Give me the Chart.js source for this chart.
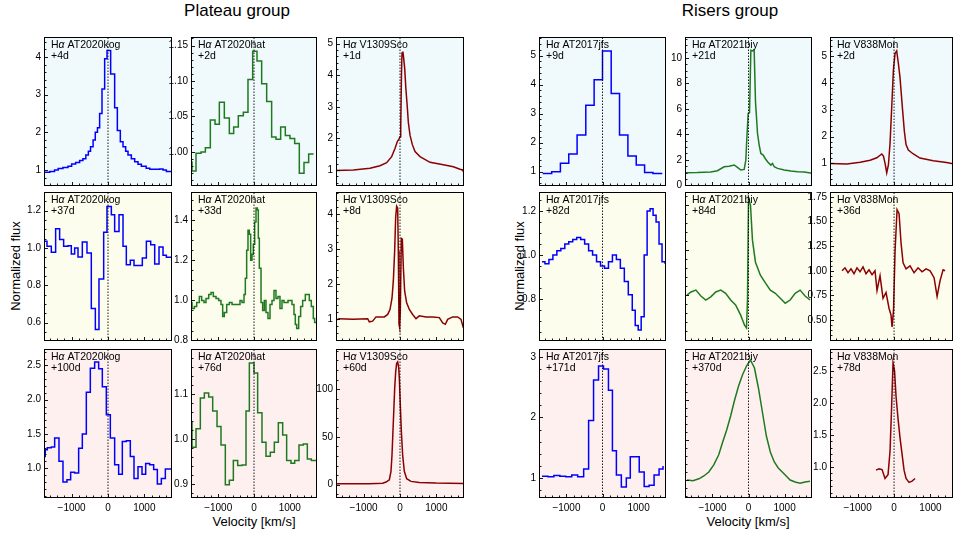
<!DOCTYPE html>
<html><head><meta charset="utf-8">
<script src="https://cdn.jsdelivr.net/npm/chart.js@4.4.1/dist/chart.umd.min.js"></script>
<style>
html,body{margin:0;padding:0;background:#fff;width:954px;height:535px;overflow:hidden;position:relative;font-family:"Liberation Sans",Arial,sans-serif;}
canvas{position:absolute;}
.t{position:absolute;color:#000;white-space:nowrap;line-height:1;}
</style></head><body>
<div class="t" style="left:237px;top:10px;transform:translate(-50%,-50%);font-size:17px;">Plateau group</div>
<div class="t" style="left:730px;top:10px;transform:translate(-50%,-50%);font-size:17px;">Risers group</div>
<div class="t" style="left:15px;top:266px;transform:translate(-50%,-50%) rotate(-90deg);font-size:13px;">Normalized flux</div>
<div class="t" style="left:519px;top:266px;transform:translate(-50%,-50%) rotate(-90deg);font-size:13px;">Normalized flux</div>
<div class="t" style="left:254px;top:521px;transform:translate(-50%,-50%);font-size:13px;">Velocity [km/s]</div>
<div class="t" style="left:748px;top:521px;transform:translate(-50%,-50%);font-size:13px;">Velocity [km/s]</div>
<script>
// ---------------- tick labels ----------------
const XTICKS = [-1000, 0, 1000];
const kog4Ticks = [1, 2, 3, 4];
const hat2Ticks = [1.00, 1.05, 1.10, 1.15];
const sco1Ticks = [1, 2, 3, 4, 5];
const kog37Ticks = [0.6, 0.8, 1.0, 1.2];
const hat33Ticks = [0.8, 1.0, 1.2, 1.4];
const sco8Ticks = [1, 2, 3, 4];
const kog100Ticks = [1.0, 1.5, 2.0, 2.5];
const hat76Ticks = [0.9, 1.0, 1.1];
const sco60Ticks = [0, 50, 100];
const jfs9Ticks = [1, 2, 3, 4, 5];
const biy21Ticks = [0, 2, 4, 6, 8, 10];
const mon2Ticks = [1, 2, 3, 4, 5];
const jfs82Ticks = [0.8, 1.0, 1.2];
const biy84Ticks = [0, 1, 2, 3];
const mon36Ticks = [0.50, 0.75, 1.00, 1.25, 1.50, 1.75];
const jfs171Ticks = [1, 2, 3];
const biy370Ticks = [1, 2, 3, 4];
const mon78Ticks = [1.0, 1.5, 2.0, 2.5];

// ---------------- data: velocity [km/s], normalized flux ----------------
const kog4Vel = [-1760,-1600,-1470,-1370,-1240,-1100,-1000,-890,-780,-690,-610,-540,-480,-410,-350,-290,-230,-165,-92,-27,73,183,257,339,413,486,550,642,734,825,917,1050,1150,1420,1513,1605,1760];
const kog4Flux = [0.94,0.96,1.00,1.04,1.07,1.10,1.16,1.20,1.25,1.30,1.40,1.50,1.62,1.80,2.00,2.12,2.50,3.15,3.95,4.17,3.55,2.65,2.05,1.75,1.62,1.50,1.40,1.30,1.22,1.15,1.10,1.05,1.02,1.03,1.00,0.96,0.95];

const hat2Vel = [-1760,-1732,-1620,-1480,-1359,-1220,-1089,-968,-829,-689,-568,-438,-298,-168,-37,84,214,354,493,614,745,875,1005,1136,1266,1397,1527,1666];
const hat2Flux = [0.986,0.973,0.998,1.000,1.006,1.045,1.039,1.070,1.048,1.026,1.035,1.051,1.056,1.102,1.142,1.128,1.096,1.071,1.021,1.018,1.035,1.023,1.019,1.012,0.970,0.985,0.997,0.997];

const sco1Vel = [-1760,-1284,-825,-550,-367,-229,-138,-73,-18,0,20,40,55,80,100,130,160,200,230,275,340,413,550,825,1192,1467,1650,1720,1760];
const sco1Flux = [0.98,1.00,1.05,1.13,1.23,1.42,1.68,1.90,2.00,2.05,2.30,4.00,4.70,4.75,4.55,4.20,3.60,3.00,2.50,2.10,1.80,1.58,1.42,1.24,1.16,1.10,1.02,1.00,0.90];

const kog37Vel = [-1760,-1678,-1559,-1440,-1330,-1220,-1100,-1009,-917,-825,-706,-578,-459,-348,-248,-119,-28,92,183,303,413,504,614,715,944,1055,1174,1284,1403,1513,1605,1760];
const kog37Flux = [1.036,1.009,0.977,1.103,1.045,1.009,1.012,0.968,1.000,0.952,1.032,0.973,0.676,0.564,0.834,1.085,1.223,1.178,1.089,1.178,1.009,0.911,0.934,0.907,0.947,1.036,1.018,0.915,1.005,0.961,0.950,0.950];

const hat33Vel = [-1760,-1732,-1666,-1601,-1527,-1462,-1397,-1341,-1266,-1201,-1136,-1061,-987,-922,-875,-829,-763,-689,-614,-540,-456,-391,-335,-279,-242,-205,-168,-130,-93,-56,-19,19,56,93,121,149,196,242,289,335,391,447,503,559,614,670,726,782,838,894,950,1005,1061,1117,1154,1192,1248,1303,1359,1434,1490,1545,1601,1657,1694,1760];
const hat33Flux = [0.99,0.96,0.97,0.99,1.02,1.00,0.99,1.01,1.03,1.04,1.02,1.01,1.00,0.98,0.92,0.94,0.98,0.99,0.98,0.98,0.98,1.00,0.99,1.03,1.11,1.25,1.35,1.33,1.20,1.23,1.28,1.39,1.46,1.45,1.31,1.16,0.99,0.95,1.00,0.94,0.91,0.98,1.00,1.05,1.01,1.02,0.96,1.00,0.99,0.99,1.00,1.00,0.98,0.93,0.88,0.86,0.92,0.97,1.00,1.03,1.03,1.00,0.97,0.91,0.89,0.89];

const sco8Vel = [-1760,-1669,-1302,-889,-844,-752,-660,-431,-339,-275,-220,-183,-147,-119,-92,-64,-46,-28,-9,9,37,64,92,128,183,257,348,440,532,715,899,1082,1174,1247,1311,1449,1586,1678,1742];
const sco8Flux = [0.98,1.02,1.00,1.02,0.93,0.95,1.07,1.07,1.14,1.28,1.60,2.10,2.94,3.90,4.22,4.17,2.94,0.86,0.76,1.24,3.30,3.28,2.47,1.80,1.47,1.28,1.14,1.02,1.10,1.07,1.07,1.05,0.90,0.86,1.00,1.07,1.07,1.00,0.76];

const kog100Vel = [-1760,-1725,-1669,-1559,-1467,-1348,-1238,-1128,-1027,-917,-807,-706,-596,-486,-367,-257,-156,-46,64,183,293,394,504,614,715,825,935,1036,1146,1256,1357,1467,1577,1760];
const kog100Flux = [1.17,1.27,1.30,1.31,1.44,1.10,0.80,0.83,0.94,0.93,1.29,1.50,2.11,2.46,2.55,2.45,2.19,1.78,1.44,1.05,0.91,1.39,1.40,1.17,0.85,1.02,0.91,1.07,1.05,0.98,0.77,0.85,0.99,0.99];

const hat76Vel = [-1760,-1732,-1620,-1499,-1387,-1266,-1154,-1033,-922,-801,-689,-577,-456,-335,-223,-130,0,102,223,335,456,568,680,801,912,1033,1136,1257,1378,1490,1601,1732];
const hat76Flux = [1.036,0.982,1.023,1.091,1.102,1.093,1.062,1.028,0.987,0.899,0.909,0.953,0.942,0.943,1.062,1.168,1.146,1.058,0.993,0.962,0.971,0.993,1.036,1.009,0.953,0.947,0.953,0.987,0.989,0.956,0.953,0.953];

const sco60Vel = [-1760,-844,-477,-385,-293,-248,-220,-183,-147,-119,-92,-64,-37,-18,9,37,73,119,183,303,532,990,1742];
const sco60Flux = [1.0,1.0,1.5,2.8,5.2,13.9,31,66,100,118,127,128.5,123,111,83,56,31,14,6.3,3.5,2.4,1.7,1.4];

const jfs9Vel = [-1658,-1408,-1167,-935,-704,-463,-232,0,241,472,704,935,1167,1398,1658];
const jfs9Flux = [0.94,1.00,1.29,1.61,2.26,3.29,4.17,5.16,3.69,2.26,1.54,1.23,0.97,0.94,0.94];

const biy21Vel = [-1760,-1417,-1046,-861,-676,-537,-398,-306,-213,-120,-74,-46,-9,28,65,111,157,194,250,296,343,407,463,528,620,667,713,806,991,1176,1361,1546,1760];
const biy21Flux = [0.99,1.00,1.05,1.15,1.46,1.50,1.60,1.41,1.20,1.25,1.98,3.68,5.64,5.70,10.60,10.55,10.60,6.55,4.07,3.16,2.50,2.38,2.11,1.85,1.59,1.72,1.46,1.33,1.20,1.12,1.07,1.04,0.94];

const mon2Vel = [-1760,-1296,-931,-657,-475,-338,-292,-247,-201,-155,-110,-64,-18,27,73,119,164,228,283,329,393,530,712,1077,1442,1620];
const mon2Flux = [1.00,0.98,1.04,1.12,1.21,1.35,1.27,1.00,0.65,0.94,1.75,3.10,4.48,5.10,5.20,4.73,4.20,3.10,2.20,1.70,1.50,1.35,1.20,1.10,1.03,0.99];

const jfs82Vel = [-1678,-1595,-1485,-1375,-1265,-1155,-1045,-935,-825,-715,-605,-495,-385,-275,-165,-55,55,165,275,385,495,605,715,825,907,990,1072,1155,1237,1320,1402,1485,1567,1650,1732];
const jfs82Flux = [0.97,0.96,0.98,1.00,1.02,1.03,1.05,1.06,1.07,1.08,1.07,1.05,1.02,1.00,0.97,0.95,0.94,0.97,1.00,0.98,0.94,0.88,0.82,0.75,0.68,0.66,0.72,1.00,1.20,1.21,1.18,1.15,1.05,0.97,0.96];

const biy84Vel = [-1705,-1595,-1458,-1320,-1183,-1045,-908,-770,-633,-495,-358,-220,-110,-55,-28,0,55,110,193,330,468,605,743,880,1018,1155,1293,1430,1568,1705];
const biy84Flux = [1.00,1.07,1.11,0.98,0.89,0.96,1.07,1.11,1.04,0.89,0.78,0.56,0.33,0.27,0.89,3.16,3.00,2.22,1.73,1.44,1.27,1.11,1.04,0.93,0.82,0.89,1.04,1.11,0.98,0.89];

const mon36Vel = [-1430,-1348,-1265,-1183,-1100,-1018,-935,-853,-770,-688,-605,-523,-468,-385,-303,-220,-138,-83,-55,-14,28,83,138,193,248,330,440,550,660,770,880,990,1100,1183,1265,1348,1402];
const mon36Flux = [1.00,1.03,0.98,1.02,0.97,1.03,0.99,1.04,0.97,1.01,0.96,1.00,0.80,0.95,0.72,0.78,0.62,0.55,0.43,0.60,1.20,1.62,1.58,1.28,1.08,1.02,1.05,0.98,1.03,0.99,1.02,1.00,0.93,0.74,0.90,1.01,1.00];

const jfs171Vel = [-1678,-1512,-1348,-1182,-1018,-852,-688,-522,-385,-248,-110,28,165,275,385,522,660,770,907,1018,1155,1292,1430,1568,1678];
const jfs171Flux = [1.03,1.02,1.04,1.03,1.02,1.05,1.02,1.15,1.95,2.62,2.85,2.80,2.45,1.45,1.05,0.85,1.00,1.35,1.35,1.10,0.86,0.88,1.05,1.15,1.20];

const biy370Vel = [-1705,-1540,-1375,-1238,-1100,-963,-825,-715,-605,-495,-385,-275,-165,-55,55,165,275,385,495,605,715,825,935,1045,1155,1293,1430,1568,1705];
const biy370Flux = [1.00,0.98,1.03,1.10,1.20,1.38,1.63,1.95,2.25,2.60,3.00,3.35,3.63,3.85,4.00,3.80,3.30,2.70,2.10,1.70,1.45,1.30,1.20,1.10,1.00,0.95,0.92,0.95,0.97];

const mon78Vel = [-495,-413,-330,-248,-165,-110,-69,-28,14,55,110,165,220,275,330,413,495,578];
const mon78Flux = [0.95,0.97,0.96,0.82,0.88,1.25,1.90,2.62,2.50,2.10,1.75,1.45,1.20,0.95,0.82,0.76,0.78,0.82];

// ---------------- layout & styles ----------------
const COL_LEFT = [44, 191, 336, 539, 685, 830];
const COL_WIDTH = [128, 126, 128, 127, 127, 123];
const COL_XMAX = [1760, 1760, 1760, 1760, 1760, 1620];
const XMIN = -1760;
const ROW_TOP = [37, 192, 349];
const PANEL_H = 149;
const ROW_BG = ['#f0fafd', '#fdfdee', '#fff0f0'];
const LINE_COLORS = ['#0000ff', '#1f7a1f', '#8b0000'];
const FONT = '"Liberation Sans", Arial, Helvetica, sans-serif';
const YAXW = 40, PADT = 8, PADR = 8, PADB = 8, XAXH = 26;

const panels = [
 {col:0,row:0,obj:'AT2020kog',ep:'+4d',v:kog4Vel,f:kog4Flux,step:true,ymin:0.576,ymax:4.53,yt:kog4Ticks,sub:5,dec:0},
 {col:1,row:0,obj:'AT2020hat',ep:'+2d',v:hat2Vel,f:hat2Flux,step:true,ymin:0.952,ymax:1.162,yt:hat2Ticks,sub:5,dec:2},
 {col:2,row:0,obj:'V1309Sco',ep:'+1d',v:sco1Vel,f:sco1Flux,step:false,ymin:0.49,ymax:5.21,yt:sco1Ticks,sub:5,dec:0},
 {col:0,row:1,obj:'AT2020kog',ep:'+37d',v:kog37Vel,f:kog37Flux,step:true,ymin:0.502,ymax:1.30,yt:kog37Ticks,sub:4,dec:1},
 {col:1,row:1,obj:'AT2020hat',ep:'+33d',v:hat33Vel,f:hat33Flux,step:true,ymin:0.798,ymax:1.54,yt:hat33Ticks,sub:4,dec:1},
 {col:2,row:1,obj:'V1309Sco',ep:'+8d',v:sco8Vel,f:sco8Flux,step:false,ymin:0.385,ymax:4.62,yt:sco8Ticks,sub:5,dec:0},
 {col:0,row:2,obj:'AT2020kog',ep:'+100d',v:kog100Vel,f:kog100Flux,step:true,ymin:0.565,ymax:2.74,yt:kog100Ticks,sub:5,dec:1},
 {col:1,row:2,obj:'AT2020hat',ep:'+76d',v:hat76Vel,f:hat76Flux,step:true,ymin:0.870,ymax:1.199,yt:hat76Ticks,sub:5,dec:1},
 {col:2,row:2,obj:'V1309Sco',ep:'+60d',v:sco60Vel,f:sco60Flux,step:false,ymin:-13.9,ymax:142,yt:sco60Ticks,sub:5,dec:0},
 {col:3,row:0,obj:'AT2017jfs',ep:'+9d',v:jfs9Vel,f:jfs9Flux,step:true,ymin:0.507,ymax:5.64,yt:jfs9Ticks,sub:5,dec:0},
 {col:4,row:0,obj:'AT2021biy',ep:'+21d',v:biy21Vel,f:biy21Flux,step:false,ymin:-0.05,ymax:11.64,yt:biy21Ticks,sub:4,dec:0},
 {col:5,row:0,obj:'V838Mon',ep:'+2d',v:mon2Vel,f:mon2Flux,step:false,ymin:0.155,ymax:5.72,yt:mon2Ticks,sub:5,dec:0},
 {col:3,row:1,obj:'AT2017jfs',ep:'+82d',v:jfs82Vel,f:jfs82Flux,step:true,ymin:0.61,ymax:1.286,yt:jfs82Ticks,sub:4,dec:1},
 {col:4,row:1,obj:'AT2021biy',ep:'+84d',v:biy84Vel,f:biy84Flux,step:false,ymin:-0.02,ymax:3.29,yt:biy84Ticks,sub:5,dec:0,noLabels:true},
 {col:5,row:1,obj:'V838Mon',ep:'+36d',v:mon36Vel,f:mon36Flux,step:false,ymin:0.287,ymax:1.80,yt:mon36Ticks,sub:5,dec:2},
 {col:3,row:2,obj:'AT2017jfs',ep:'+171d',v:jfs171Vel,f:jfs171Flux,step:true,ymin:0.67,ymax:3.13,yt:jfs171Ticks,sub:5,dec:0},
 {col:4,row:2,obj:'AT2021biy',ep:'+370d',v:biy370Vel,f:biy370Flux,step:false,ymin:0.55,ymax:4.275,yt:biy370Ticks,sub:5,dec:0,noLabels:true},
 {col:5,row:2,obj:'V838Mon',ep:'+78d',v:mon78Vel,f:mon78Flux,step:false,ymin:0.516,ymax:2.84,yt:mon78Ticks,sub:5,dec:1}
];

Chart.defaults.font.family = FONT;
Chart.defaults.color = '#000';

function fmtX(v){ return v < 0 ? '\u2212' + Math.abs(v) : String(v); }

function tickList(majors, sub, min, max){
  const step = (majors[1] - majors[0]) / sub;
  const out = [];
  const start = majors[0] - Math.floor((majors[0] - min) / step + 1e-9) * step;
  for (let v = start; v <= max + 1e-9; v += step){
    const k = Math.round((v - majors[0]) / step);
    out.push({v: v, major: ((k % sub) + sub) % sub === 0});
  }
  return out;
}

function zeroPad(s){ s.paddingLeft = 0; s.paddingRight = 0; s.paddingTop = 0; s.paddingBottom = 0; }

function makePlugin(p, xmax){
  return {
    id: 'panelDeco',
    beforeDraw(chart){
      const a = chart.chartArea, c = chart.ctx;
      c.save();
      c.fillStyle = ROW_BG[p.row];
      c.fillRect(a.left, a.top, a.right - a.left, a.bottom - a.top);
      c.restore();
    },
    afterDraw(chart){
      const a = chart.chartArea, c = chart.ctx, xs = chart.scales.x, ys = chart.scales.y;
      c.save();
      c.strokeStyle = '#000';
      c.lineWidth = 0.9;
      c.beginPath();
      tickList(XTICKS, 5, XMIN, xmax).forEach(t => {
        const px = Math.round(xs.getPixelForValue(t.v)) + 0.5;
        if (px < a.left + 1 || px > a.right - 1) return;
        const len = t.major ? 4 : 2.5;
        c.moveTo(px, a.bottom); c.lineTo(px, a.bottom - len);
      });
      tickList(p.yt, p.sub, p.ymin, p.ymax).forEach(t => {
        const py = Math.round(ys.getPixelForValue(t.v)) + 0.5;
        if (py < a.top + 1 || py > a.bottom - 1) return;
        const len = t.major ? 4 : 2.5;
        c.moveTo(a.left, py); c.lineTo(a.left + len, py);
      });
      c.stroke();
      c.lineWidth = 1;
      c.strokeRect(a.left + 0.5, a.top + 0.5, a.right - a.left - 1, a.bottom - a.top - 1);
      // annotation text
      c.fillStyle = '#000';
      c.textBaseline = 'alphabetic';
      c.textAlign = 'left';
      let x = a.left + 7;
      const y1 = a.top + 11, y2 = a.top + 22;
      c.font = '10.5px ' + FONT;
      c.fillText('H', x, y1); x += c.measureText('H').width;
      c.font = 'italic 10.5px ' + FONT;
      c.fillText('\u03b1', x, y1); x += c.measureText('\u03b1').width;
      c.font = '10.5px ' + FONT;
      c.fillText(' ' + p.obj, x, y1);
      c.fillText(p.ep, a.left + 7, y2);
      c.restore();
    }
  };
}

panels.forEach((p) => {
  const w = COL_WIDTH[p.col], xmax = COL_XMAX[p.col];
  const bottomRow = p.row === 2;
  const cw = YAXW + w + PADR;
  const ch = PADT + PANEL_H + (bottomRow ? XAXH : PADB);
  const cv = document.createElement('canvas');
  cv.width = cw; cv.height = ch;
  cv.style.width = cw + 'px'; cv.style.height = ch + 'px';
  cv.style.left = (COL_LEFT[p.col] - YAXW) + 'px';
  cv.style.top = (ROW_TOP[p.row] - PADT) + 'px';
  document.body.appendChild(cv);
  const pts = p.v.map((v, i) => ({x: v, y: p.f[i]}));
  new Chart(cv, {
    type: 'line',
    data: {datasets: [
      {data: [{x: 0, y: p.ymin}, {x: 0, y: p.ymax}], borderColor: '#000', borderWidth: 0.9, borderDash: [1.5, 1.5], pointRadius: 0, fill: false},
      {data: pts, borderColor: LINE_COLORS[p.col % 3], borderWidth: 1.5, pointRadius: 0, fill: false, tension: 0, stepped: p.step}
    ]},
    options: {
      animation: false, responsive: false, devicePixelRatio: 1,
      layout: {padding: {left: 0, top: PADT, right: PADR, bottom: bottomRow ? 0 : PADB}},
      plugins: {legend: {display: false}, tooltip: {enabled: false}, title: {display: false}},
      events: [],
      scales: {
        x: {
          type: 'linear', min: XMIN, max: xmax,
          afterBuildTicks: (s) => { s.ticks = XTICKS.map(v => ({value: v})); },
          afterFit: (s) => { s.height = bottomRow ? XAXH : 0; zeroPad(s); },
          ticks: {display: bottomRow, autoSkip: false, maxRotation: 0, minRotation: 0, padding: 4, color: '#000', font: {size: 10, family: FONT}, callback: (v) => fmtX(v)},
          grid: {display: false, drawTicks: false},
          border: {display: false}
        },
        y: {
          type: 'linear', min: p.ymin, max: p.ymax,
          afterBuildTicks: (s) => { s.ticks = p.yt.map(v => ({value: v})); },
          afterFit: (s) => { s.width = YAXW; zeroPad(s); },
          ticks: {display: !p.noLabels, autoSkip: false, padding: 3, color: '#000', font: {size: 10, family: FONT}, callback: (v) => Number(v).toFixed(p.dec)},
          grid: {display: false, drawTicks: false},
          border: {display: false}
        }
      }
    },
    plugins: [makePlugin(p, xmax)]
  });
});
</script>
</body></html>
